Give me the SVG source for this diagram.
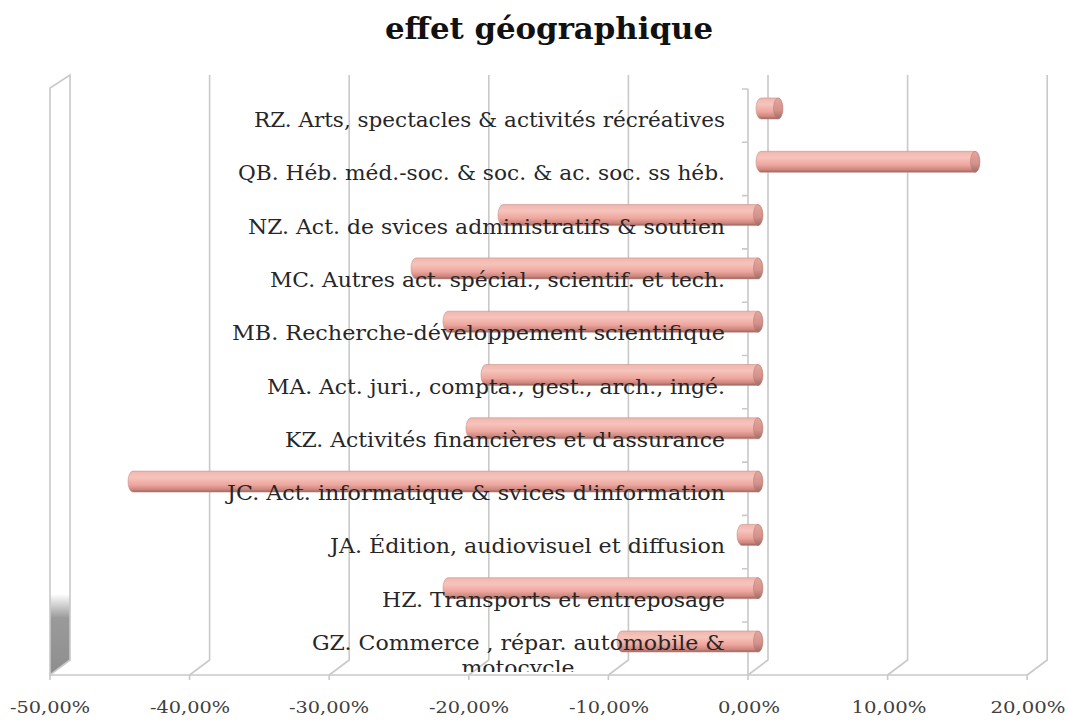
<svg xmlns="http://www.w3.org/2000/svg" width="1067" height="720" viewBox="0 0 1067 720">
<defs>
<style>
.grid{fill:none;stroke:#c9c9c9;stroke-width:1.6}
.lbl{font-family:"DejaVu Serif","Liberation Serif",serif;font-size:20px;fill:#262626;text-anchor:end}
.ax{font-family:"DejaVu Serif","Liberation Serif",serif;font-size:16px;fill:#404040;text-anchor:middle}
.title{font-family:"DejaVu Serif","Liberation Serif",serif;font-size:29px;font-weight:bold;fill:#111;text-anchor:middle}
.bar{fill:url(#barg);stroke:#c89088;stroke-width:0.6}
.cap{fill:url(#capg);stroke:#b07a72;stroke-width:0.5}
</style>
<linearGradient id="barg" x1="0" y1="0" x2="0" y2="1">
<stop offset="0" stop-color="#f0b6ae"/>
<stop offset="0.3" stop-color="#f6c4bc"/>
<stop offset="0.65" stop-color="#eea69d"/>
<stop offset="0.88" stop-color="#cc867e"/>
<stop offset="1" stop-color="#94605a"/>
</linearGradient>
<linearGradient id="capg" x1="0" y1="0" x2="0" y2="1">
<stop offset="0" stop-color="#e6a69e"/>
<stop offset="0.6" stop-color="#d2918a"/>
<stop offset="1" stop-color="#a06a64"/>
</linearGradient>
<linearGradient id="wallg" x1="0" y1="75" x2="0" y2="675" gradientUnits="userSpaceOnUse">
<stop offset="0" stop-color="#ffffff"/>
<stop offset="0.865" stop-color="#ffffff"/>
<stop offset="0.905" stop-color="#9a9a9a"/>
<stop offset="1" stop-color="#8e8e8e"/>
</linearGradient>
<clipPath id="plotclip"><rect x="0" y="60" width="1067" height="612"/></clipPath>
</defs>
<rect width="1067" height="720" fill="#ffffff"/>
<text class="title" x="549" y="39" textLength="328" lengthAdjust="spacingAndGlyphs">effet géographique</text>

<g id="axes">
<polygon points="50,88 70,75 70,660 50,675" fill="url(#wallg)" stroke="#c9c9c9" stroke-width="1.6"/>
<path class="grid" d="M209.6,75V660L189.6,675M349.2,75V660L329.2,675M488.8,75V660L468.8,675M628.4,75V660L608.4,675M768,75V660L748,675M907.6,75V660L887.6,675M1047.2,75V660L1027.2,675"/>
<path class="grid" d="M50,675H1027.2M50,675v5M189.6,675v5M329.2,675v5M468.8,675v5M608.4,675v5M748,675v5M887.6,675v5M1027.2,675v5"/>
<path class="grid" d="M748,89V675M742,89H748M742,142.3H748M742,195.6H748M742,248.9H748M742,302.2H748M742,355.5H748M742,408.8H748M742,462.1H748M742,515.4H748M742,568.7H748M742,622H748"/>
</g>

<g id="axis-labels">
<text class="ax" x="50" y="713" textLength="80" lengthAdjust="spacingAndGlyphs">-50,00%</text>
<text class="ax" x="190" y="713" textLength="80" lengthAdjust="spacingAndGlyphs">-40,00%</text>
<text class="ax" x="329" y="713" textLength="80" lengthAdjust="spacingAndGlyphs">-30,00%</text>
<text class="ax" x="469" y="713" textLength="80" lengthAdjust="spacingAndGlyphs">-20,00%</text>
<text class="ax" x="609" y="713" textLength="80" lengthAdjust="spacingAndGlyphs">-10,00%</text>
<text class="ax" x="749" y="713" textLength="62" lengthAdjust="spacingAndGlyphs">0,00%</text>
<text class="ax" x="889" y="713" textLength="75" lengthAdjust="spacingAndGlyphs">10,00%</text>
<text class="ax" x="1028" y="713" textLength="75" lengthAdjust="spacingAndGlyphs">20,00%</text>
</g>

<g id="RZ">
<path class="bar" d="M761,98H778A5,10.5 0 0 1 778,119H761A5,10.5 0 0 1 761,98Z"/>
<ellipse class="cap" cx="778" cy="108.5" rx="4.5" ry="10.5"/>
<text class="lbl" x="725" y="127" textLength="471" lengthAdjust="spacingAndGlyphs">RZ. Arts, spectacles &amp; activités récréatives</text>
</g>
<g id="QB">
<path class="bar" d="M761,151.3H975A5,10.5 0 0 1 975,172.3H761A5,10.5 0 0 1 761,151.3Z"/>
<ellipse class="cap" cx="975" cy="161.8" rx="4.5" ry="10.5"/>
<text class="lbl" x="725" y="180.3" textLength="487" lengthAdjust="spacingAndGlyphs">QB. Héb. méd.-soc. &amp; soc. &amp; ac. soc. ss héb.</text>
</g>
<g id="NZ">
<path class="bar" d="M503,204.6H758A5,10.5 0 0 1 758,225.6H503A5,10.5 0 0 1 503,204.6Z"/>
<ellipse class="cap" cx="758" cy="215.1" rx="4.5" ry="10.5"/>
<text class="lbl" x="725" y="233.6" textLength="477" lengthAdjust="spacingAndGlyphs">NZ. Act. de svices administratifs &amp; soutien</text>
</g>
<g id="MC">
<path class="bar" d="M416,257.9H758A5,10.5 0 0 1 758,278.9H416A5,10.5 0 0 1 416,257.9Z"/>
<ellipse class="cap" cx="758" cy="268.4" rx="4.5" ry="10.5"/>
<text class="lbl" x="725" y="286.9" textLength="455" lengthAdjust="spacingAndGlyphs">MC. Autres act. spécial., scientif. et tech.</text>
</g>
<g id="MB">
<path class="bar" d="M448,311.2H758A5,10.5 0 0 1 758,332.2H448A5,10.5 0 0 1 448,311.2Z"/>
<ellipse class="cap" cx="758" cy="321.7" rx="4.5" ry="10.5"/>
<text class="lbl" x="725" y="340.2" textLength="493" lengthAdjust="spacingAndGlyphs">MB. Recherche-développement scientifique</text>
</g>
<g id="MA">
<path class="bar" d="M486,364.5H758A5,10.5 0 0 1 758,385.5H486A5,10.5 0 0 1 486,364.5Z"/>
<ellipse class="cap" cx="758" cy="375" rx="4.5" ry="10.5"/>
<text class="lbl" x="725" y="393.5" textLength="458" lengthAdjust="spacingAndGlyphs">MA. Act. juri., compta., gest., arch., ingé.</text>
</g>
<g id="KZ">
<path class="bar" d="M471,417.8H758A5,10.5 0 0 1 758,438.8H471A5,10.5 0 0 1 471,417.8Z"/>
<ellipse class="cap" cx="758" cy="428.3" rx="4.5" ry="10.5"/>
<text class="lbl" x="725" y="446.8" textLength="440" lengthAdjust="spacingAndGlyphs">KZ. Activités financières et d'assurance</text>
</g>
<g id="JC">
<path class="bar" d="M133,471.1H758A5,10.5 0 0 1 758,492.1H133A5,10.5 0 0 1 133,471.1Z"/>
<ellipse class="cap" cx="758" cy="481.6" rx="4.5" ry="10.5"/>
<text class="lbl" x="725" y="500.1" textLength="498" lengthAdjust="spacingAndGlyphs">JC. Act. informatique &amp; svices d'information</text>
</g>
<g id="JA">
<path class="bar" d="M742,524.4H758A5,10.5 0 0 1 758,545.4H742A5,10.5 0 0 1 742,524.4Z"/>
<ellipse class="cap" cx="758" cy="534.9" rx="4.5" ry="10.5"/>
<text class="lbl" x="725" y="553.4" textLength="395" lengthAdjust="spacingAndGlyphs">JA. Édition, audiovisuel et diffusion</text>
</g>
<g id="HZ">
<path class="bar" d="M448,577.7H758A5,10.5 0 0 1 758,598.7H448A5,10.5 0 0 1 448,577.7Z"/>
<ellipse class="cap" cx="758" cy="588.2" rx="4.5" ry="10.5"/>
<text class="lbl" x="725" y="606.7" textLength="343" lengthAdjust="spacingAndGlyphs">HZ. Transports et entreposage</text>
</g>
<g id="GZ">
<path class="bar" d="M622,631H758A5,10.5 0 0 1 758,652H622A5,10.5 0 0 1 622,631Z"/>
<ellipse class="cap" cx="758" cy="641.5" rx="4.5" ry="10.5"/>
<g clip-path="url(#plotclip)">
<text class="lbl" x="725" y="650" textLength="413" lengthAdjust="spacingAndGlyphs">GZ. Commerce , répar. automobile &amp;</text>
<text class="lbl" x="518" y="675" style="text-anchor:middle" textLength="113" lengthAdjust="spacingAndGlyphs">motocycle</text>
</g>
</g>
</svg>
